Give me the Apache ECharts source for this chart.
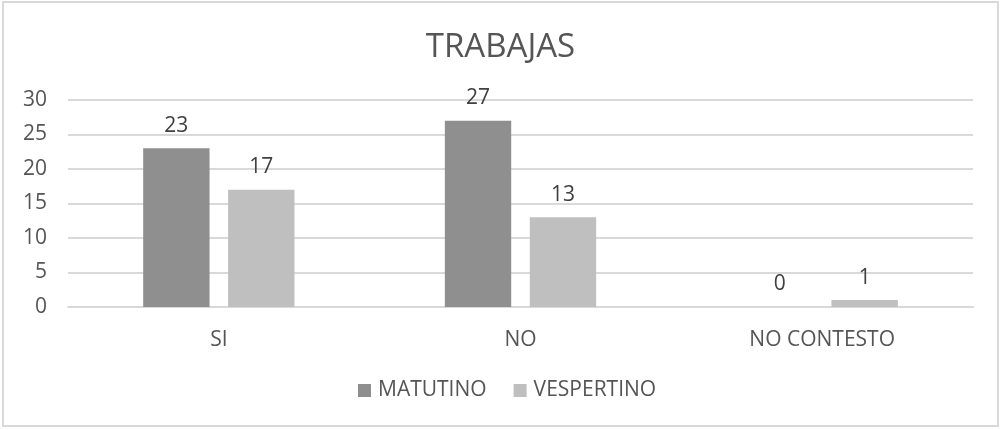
<!DOCTYPE html>
<html>
<head>
<meta charset="utf-8">
<script src="https://cdn.jsdelivr.net/npm/echarts@6/dist/echarts.min.js"></script>
<style>
  html, body { margin: 0; padding: 0; background: #fff; }
  #chart {
    width: 997px; height: 426px;
    margin: 1px 0 0 2px;
    border: 2px solid #d9d9d9;
    box-sizing: border-box;
  }
</style>
</head>
<body>
<div id="chart"></div>
<script>
const categories = ['SI', 'NO', 'NO CONTESTO']
const matutino = [23, 27, 0]
const vespertino = [17, 13, 1]
const seriesNames = ['MATUTINO', 'VESPERTINO']
const colors = ['#8f8f8f', '#bfbfbf']
const font = 'Open Sans'

let myChart = echarts.init(document.getElementById('chart'))
myChart.setOption({
  animation: false,
  color: colors,
  title: {
    text: 'TRABAJAS',
    left: 'center',
    top: 23,
    textStyle: { fontFamily: font, fontSize: 33, fontWeight: 'normal', color: '#555555' }
  },
  legend: {
    data: seriesNames,
    bottom: 19,
    left: 349,
    itemWidth: 13,
    itemHeight: 13,
    itemGap: 27,
    icon: 'rect',
    textStyle: { fontFamily: font, fontSize: 21, color: '#555555', padding: [0, 0, 0, 2] }
  },
  grid: {
    left: 64,
    right: 24,
    top: 97,
    bottom: 118
  },
  xAxis: {
    type: 'category',
    data: categories,
    axisLine: { lineStyle: { color: '#d9d9d9', width: 2 } },
    axisTick: { show: false },
    axisLabel: { fontFamily: font, fontSize: 21, color: '#555555', margin: 23 }
  },
  yAxis: {
    type: 'value',
    min: 0,
    max: 30,
    interval: 5,
    axisLine: { show: false },
    axisTick: { show: false },
    splitLine: { lineStyle: { color: '#d9d9d9', width: 2 } },
    axisLabel: { fontFamily: font, fontSize: 21, color: '#555555', margin: 21 }
  },
  series: [
    {
      name: seriesNames[0],
      type: 'bar',
      data: matutino,
      barWidth: '22%',
      barGap: '28%',
      label: { show: true, position: 'top', distance: 12, fontFamily: font, fontSize: 21, color: '#404040' }
    },
    {
      name: seriesNames[1],
      type: 'bar',
      data: vespertino,
      barWidth: '22%',
      label: { show: true, position: 'top', distance: 12, fontFamily: font, fontSize: 21, color: '#404040' }
    }
  ]
})
</script>
</body>
</html>
